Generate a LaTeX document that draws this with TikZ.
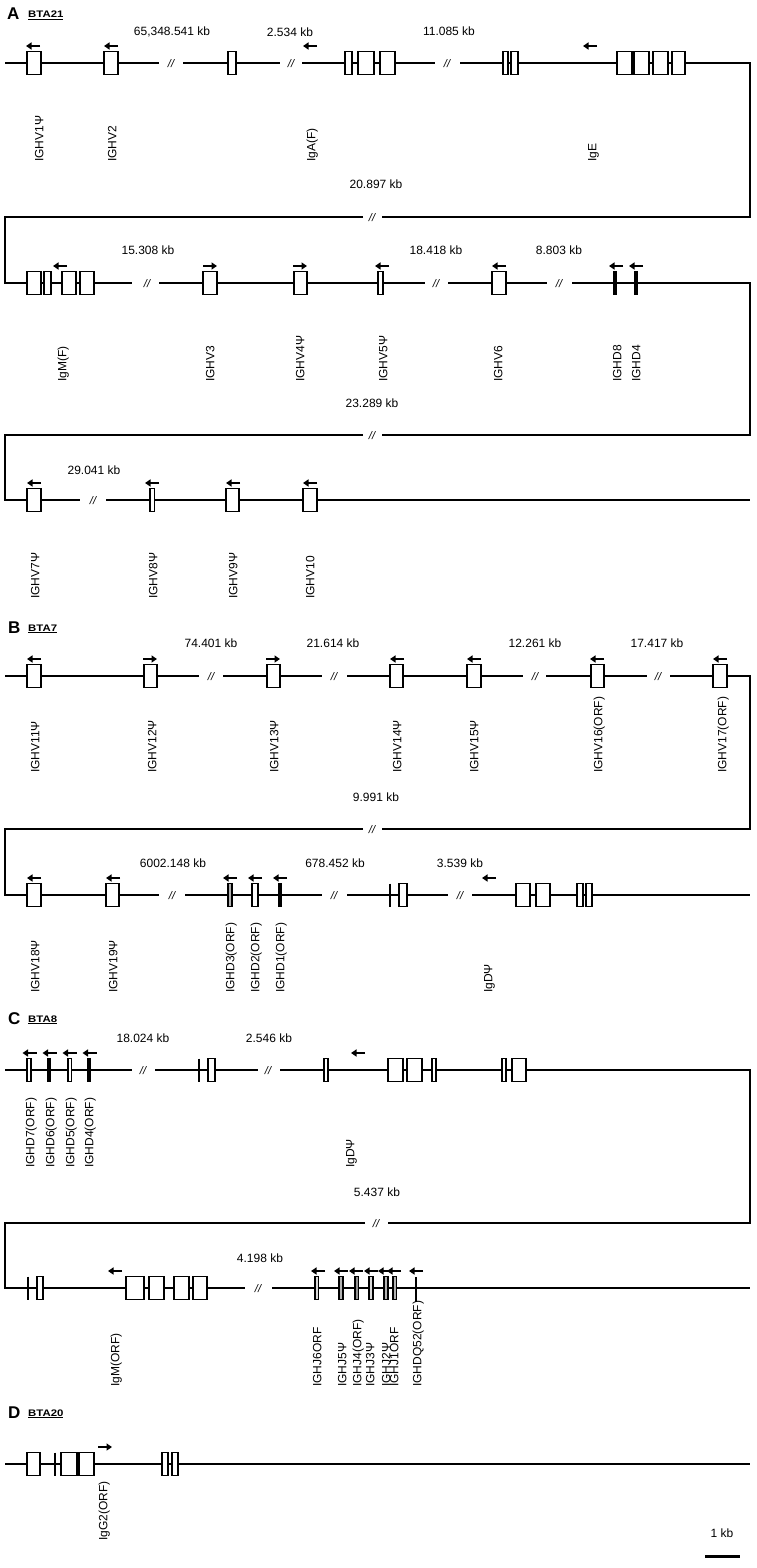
\documentclass[tikz,border=0pt]{standalone}
\usepackage{fontspec}
\setmainfont{Liberation Sans}
\usetikzlibrary{arrows.meta}
\tikzset{
 bb/.style={line width=1.4pt},
 gbox/.style={draw, line width=1.2pt, fill=white},
 gbar/.style={line width=1.5pt},
 garr/.style={line width=2pt, -{Triangle[length=5.5pt,width=7pt]}},
 brk/.style={font=\fontsize{11}{11}\selectfont\itshape, inner sep=0},
 kb/.style={font=\fontsize{12}{14}\selectfont, inner sep=0},
 glab/.style={font=\fontsize{12}{14}\selectfont, rotate=90, anchor=base west, inner sep=0},
 sec/.style={font=\fontsize{17}{17}\selectfont\bfseries, anchor=base west, inner sep=0},
 chr/.style={font=\fontsize{9.5}{10}\selectfont\bfseries, anchor=base west, inner sep=0},
}
\newcommand\GB[4][white]{\draw[gbox,fill=#1] (#2,#4-11.5) rectangle (#3,#4+11.5);}
\newcommand\GL[2]{\draw[gbar] (#1,#2-11.5) -- (#1,#2+11.5);}
\newcommand\AL[2]{\draw[garr] (#1+7,#2-17) -- (#1-7,#2-17);}
\newcommand\AR[2]{\draw[garr] (#1-7,#2-17) -- (#1+7,#2-17);}
\newcommand\LB[3]{\node[glab] at (#1+4.3,#2) {#3};}
\newcommand\BRK{[2]}
\renewcommand\BRK[2]{\node[brk] at (#1,#2) {//};}
\newcommand\KB[3]{\node[kb] at (#1,#2) {#3};}
\begin{document}
\begin{tikzpicture}[x=1pt,y=-1pt]
\useasboundingbox (0,0) rectangle (756,1568);
% ================= A =================
\node[sec] (A) at (7,20) {A};
\node[chr] (Achr) at (28,18) {\scalebox{1.2}[1]{\underline{BTA21}}};
% backbone
\draw[bb] (5,63) -- (159,63);
\draw[bb] (183,63) -- (280,63);
\draw[bb] (302,63) -- (435,63);
\draw[bb] (460,63) -- (750,63) -- (750,217) -- (382,217);
\draw[bb] (363,217) -- (5,217) -- (5,283) -- (132,283);
\draw[bb] (159,283) -- (425,283);
\draw[bb] (448,283) -- (547,283);
\draw[bb] (572,283) -- (750,283) -- (750,435) -- (382,435);
\draw[bb] (363,435) -- (5,435) -- (5,500) -- (80,500);
\draw[bb] (106,500) -- (750,500);
\BRK{171}{64}\BRK{291}{64}\BRK{447}{64}\BRK{372}{218}
\BRK{147}{284}\BRK{436}{284}\BRK{559}{284}\BRK{372}{436}
\BRK{93}{501}
% row A1
\GB{27}{41}{63}\GB{104}{118}{63}\GB{228}{236}{63}
\GB{345}{352}{63}\GB{358}{374}{63}\GB{380}{395}{63}
\GB{503}{508}{63}\GB{511}{518}{63}
\GB{617}{632}{63}\GB{634}{649}{63}\GB{653}{668}{63}\GB{672}{685}{63}
\AL{33}{63}\AL{111}{63}\AL{310}{63}\AL{590}{63}
\KB{172}{32}{65,348.541 kb}\KB{290}{32}{2.534 kb}\KB{449}{31}{11.085 kb}
\KB{376}{184}{20.897 kb}
\LB{39}{162}{IGHV1Ψ}\LB{112}{162}{IGHV2}\LB{311}{162}{IgA(F)}\LB{592}{162}{IgE}
% row A2
\GB{27}{41}{283}\GB{44}{51}{283}\GB{62}{76}{283}\GB{80}{94}{283}
\GB{203}{217}{283}\GB{294}{307}{283}\GB{378}{383}{283}\GB{492}{506}{283}
\GB[black]{613.5}{616.5}{283}\GB[black]{634.5}{637}{283}
\AL{60}{283}\AR{210}{283}\AR{300}{283}\AL{382}{283}\AL{499}{283}
\AL{616}{283}\AL{636}{283}
\KB{148}{250}{15.308 kb}\KB{436}{250}{18.418 kb}\KB{559}{250}{8.803 kb}
\KB{372}{403}{23.289 kb}
\LB{62}{382}{IgM(F)}\LB{210}{382}{IGHV3}\LB{300}{382}{IGHV4Ψ}\LB{383}{382}{IGHV5Ψ}
\LB{498}{382}{IGHV6}\LB{617}{382}{IGHD8}\LB{636}{382}{IGHD4}
% row A3
\GB{27}{41}{500}\GB{150}{154.5}{500}\GB{226}{239}{500}\GB{303}{317}{500}
\AL{34}{500}\AL{152}{500}\AL{233}{500}\AL{310}{500}
\KB{94}{470}{29.041 kb}
\LB{35}{599}{IGHV7Ψ}\LB{153}{599}{IGHV8Ψ}\LB{233}{599}{IGHV9Ψ}\LB{310}{599}{IGHV10}
% ================= B =================
\node[sec] (B) at (8,633) {B};
\node[chr] (Bchr) at (28,631) {\scalebox{1.2}[1]{\underline{BTA7}}};
\draw[bb] (5,676) -- (199,676);
\draw[bb] (223,676) -- (322,676);
\draw[bb] (347,676) -- (523,676);
\draw[bb] (546,676) -- (647,676);
\draw[bb] (670,676) -- (750,676) -- (750,829) -- (382,829);
\draw[bb] (363,829) -- (5,829) -- (5,895) -- (159,895);
\draw[bb] (185,895) -- (322,895);
\draw[bb] (347,895) -- (448,895);
\draw[bb] (472,895) -- (750,895);
\BRK{211}{677}\BRK{334}{677}\BRK{535}{677}\BRK{658}{677}\BRK{372}{830}
\BRK{172}{896}\BRK{334}{896}\BRK{460}{896}
% row B1
\GB{27}{41}{676}\GB{144}{157}{676}\GB{267}{280}{676}\GB{390}{403}{676}
\GB{467}{481}{676}\GB{591}{604}{676}\GB{713}{727}{676}
\AL{34}{676}\AR{150}{676}\AR{273}{676}\AL{397}{676}\AL{474}{676}
\AL{597}{676}\AL{720}{676}
\KB{211}{643}{74.401 kb}\KB{333}{643}{21.614 kb}\KB{535}{643}{12.261 kb}
\KB{657}{643}{17.417 kb}\KB{376}{797}{9.991 kb}
\LB{35}{773}{IGHV11Ψ}\LB{152}{773}{IGHV12Ψ}\LB{274}{773}{IGHV13Ψ}
\LB{397}{773}{IGHV14Ψ}\LB{474}{773}{IGHV15Ψ}\LB{598}{773}{IGHV16(ORF)}
\LB{722}{773}{IGHV17(ORF)}
% row B2
\GB{27}{41}{895}\GB{106}{119}{895}
\GB[gray!60]{228}{232}{895}\GB{252}{258}{895}\GB[black]{278.5}{281.5}{895}
\GL{390}{895}\GB{399}{407}{895}
\GB{516}{530}{895}\GB{536}{550}{895}\GB{577}{583}{895}\GB{586}{592}{895}
\AL{34}{895}\AL{113}{895}\AL{230}{895}\AL{255}{895}\AL{280}{895}\AL{489}{895}
\KB{173}{863}{6002.148 kb}\KB{335}{863}{678.452 kb}\KB{460}{863}{3.539 kb}
\LB{35}{993}{IGHV18Ψ}\LB{113}{993}{IGHV19Ψ}\LB{230}{993}{IGHD3(ORF)}
\LB{255}{993}{IGHD2(ORF)}\LB{280}{993}{IGHD1(ORF)}\LB{488}{993}{IgDΨ}
% ================= C =================
\node[sec] (C) at (8,1024) {C};
\node[chr] (Cchr) at (28,1022) {\scalebox{1.2}[1]{\underline{BTA8}}};
\draw[bb] (5,1070) -- (132,1070);
\draw[bb] (155,1070) -- (258,1070);
\draw[bb] (280,1070) -- (750,1070) -- (750,1223) -- (388,1223);
\draw[bb] (365,1223) -- (5,1223) -- (5,1288) -- (245,1288);
\draw[bb] (272,1288) -- (750,1288);
\BRK{143}{1071}\BRK{268}{1071}\BRK{376}{1224}\BRK{258}{1289}
% row C1
\GB{27}{31}{1070}\GB[black]{48}{50.5}{1070}\GB{68}{71.5}{1070}\GB[black]{88}{90.5}{1070}
\GL{199}{1070}\GB{208}{215}{1070}\GB{324}{328}{1070}
\GB{388}{403}{1070}\GB{407}{422}{1070}\GB{432}{436}{1070}
\GB{502}{506}{1070}\GB{512}{526}{1070}
\AL{29.5}{1070}\AL{49.5}{1070}\AL{69.5}{1070}\AL{89.5}{1070}\AL{358}{1070}
\KB{143}{1038}{18.024 kb}\KB{269}{1038}{2.546 kb}\KB{377}{1192}{5.437 kb}
\LB{30}{1168}{IGHD7(ORF)}\LB{50}{1168}{IGHD6(ORF)}\LB{70}{1168}{IGHD5(ORF)}
\LB{89}{1168}{IGHD4(ORF)}\LB{350}{1168}{IgDΨ}
% row C2
\GL{28}{1288}\GB{37}{43}{1288}
\GB{126}{144}{1288}\GB{149}{164}{1288}\GB{174}{189}{1288}\GB{193}{207}{1288}
\GB[gray!30]{315}{318.5}{1288}\GB[gray!60]{339}{343}{1288}\GB[gray!85]{355}{358.5}{1288}
\GB[gray!30]{369}{373}{1288}\GB[gray!60]{384}{388}{1288}\GB[gray!60]{393}{396.5}{1288}
\draw[gbar] (416,1277) -- (416,1302);
\AL{115}{1288}\AL{318}{1288}\AL{341}{1288}\AL{356}{1288}\AL{371}{1288}
\AL{385}{1288}\AL{394}{1288}\AL{416}{1288}
\KB{260}{1258}{4.198 kb}
\LB{115}{1387}{IgM(ORF)}\LB{317}{1387}{IGHJ6ORF}\LB{342}{1387}{IGHJ5Ψ}
\LB{357}{1387}{IGHJ4(ORF)}\LB{370}{1387}{IGHJ3Ψ}\LB{386}{1387}{IGHJ2Ψ}
\LB{394}{1387}{IGHJ1ORF}\LB{417}{1387}{IGHDQ52(ORF)}
% ================= D =================
\node[sec] (D) at (8,1418) {D};
\node[chr] (Dchr) at (28,1416) {\scalebox{1.2}[1]{\underline{BTA20}}};
\draw[bb] (5,1464) -- (750,1464);
\GB{27}{40}{1464}\GL{55}{1464}\GB{61}{77}{1464}\GB{79}{94}{1464}
\GB{162}{168}{1464}\GB{172}{178}{1464}
\AR{105}{1464}
\LB{103}{1541}{IgG2(ORF)}
% scale bar
\node[kb] (sc) at (722,1533) {1 kb};
\draw[line width=3pt] (705,1556) -- (740,1556);
\end{tikzpicture}
\end{document}
